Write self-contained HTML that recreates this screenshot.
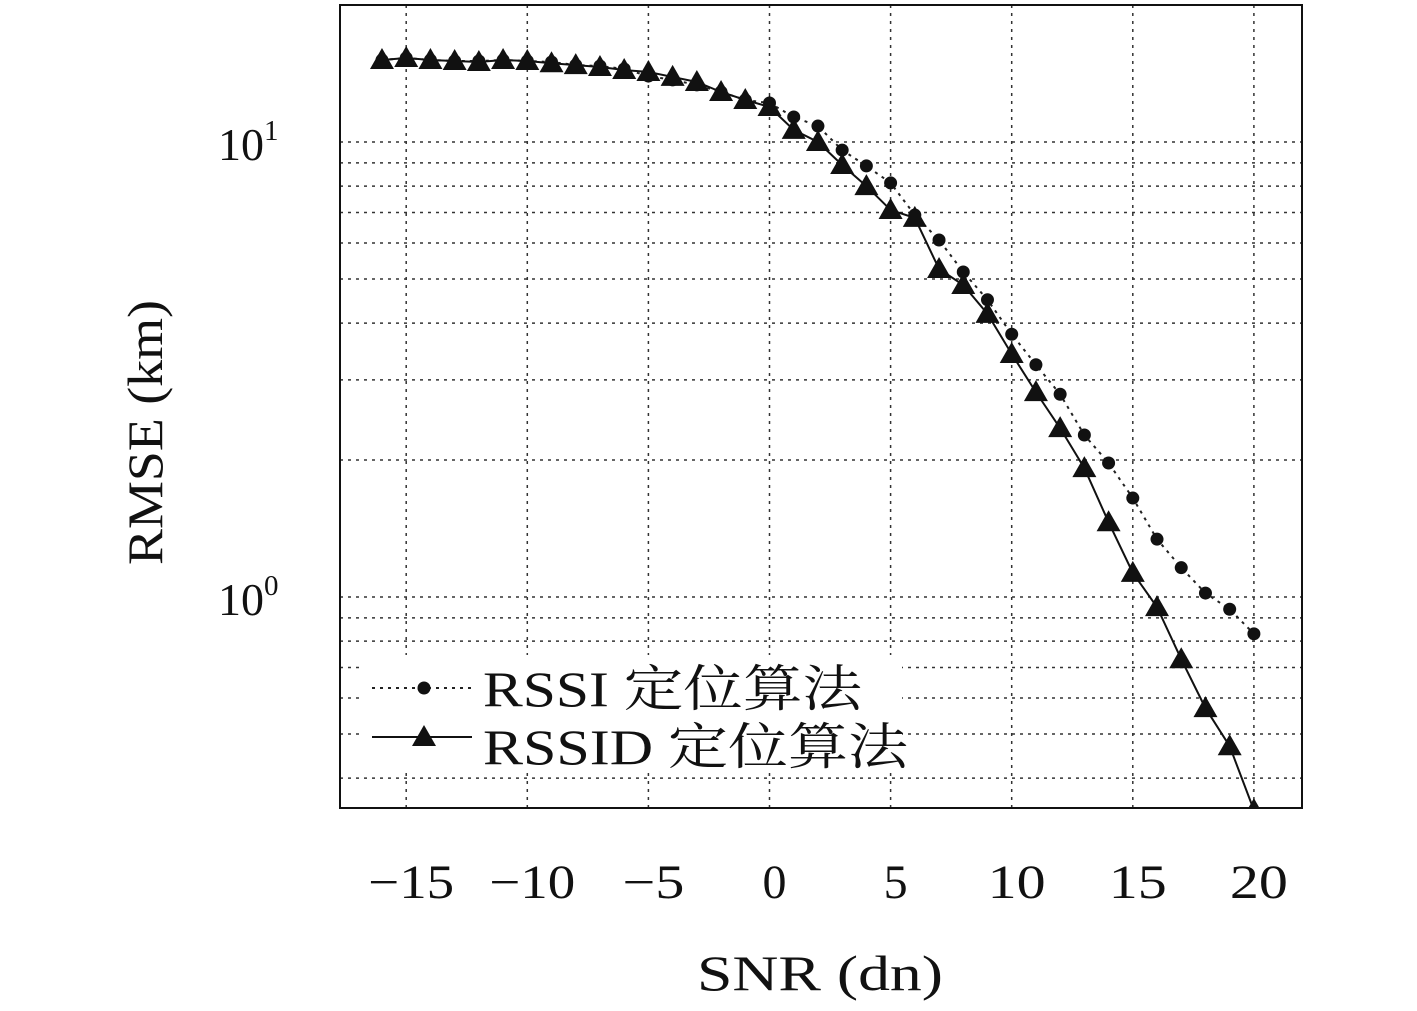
<!DOCTYPE html>
<html><head><meta charset="utf-8"><style>
body{margin:0;background:#fff}
svg{display:block}
text{font-family:"Liberation Serif","Noto Serif CJK SC",serif;fill:#111}
</style></head><body>
<svg id="chart" width="1417" height="1011">
<defs><clipPath id="clip"><rect x="340" y="5" width="962" height="803"/></clipPath></defs>
<g id="grid"></g>
<g id="marks" clip-path="url(#clip)"></g>
<rect x="340" y="5" width="962" height="803" fill="none" stroke="#111" stroke-width="2"/>
<g id="ticks"></g>
<text x="697" y="990" font-size="50" textLength="246" lengthAdjust="spacingAndGlyphs">SNR (dn)</text>
<text transform="translate(162,565) rotate(-90)" font-size="50" textLength="265" lengthAdjust="spacingAndGlyphs">RMSE (km)</text>
<g>
<rect x="362" y="655" width="540" height="115" fill="#fff"/>
<g>
<line x1="372" y1="688" x2="472" y2="688" stroke="#222" stroke-width="2" stroke-dasharray="3,5"/>
<circle cx="424" cy="688" r="6.5" fill="#111"/>
<text x="483" y="706" font-size="50" textLength="379" lengthAdjust="spacingAndGlyphs">RSSI 定位算法</text></g>
<g>
<line x1="372" y1="737" x2="472" y2="737" stroke="#111" stroke-width="2"/>
<polygon points="424,725 436,746 412,746" fill="#111"/>
<text x="483" y="764" font-size="50" textLength="425" lengthAdjust="spacingAndGlyphs">RSSID 定位算法</text></g>
</g>
</svg>
<script>
const snr=[-16,-15,-14,-13,-12,-11,-10,-9,-8,-7,-6,-5,-4,-3,-2,-1,0,1,2,3,4,5,6,7,8,9,10,11,12,13,14,15,16,17,18,19,20];
const rssi=[15.14,15.3,15.14,15.07,15.07,15.14,15.07,14.99,14.76,14.69,14.47,13.96,13.69,13.35,12.88,12.37,12.18,11.35,10.84,9.6,8.86,8.13,6.91,6.09,5.18,4.5,3.78,3.24,2.79,2.27,1.97,1.65,1.34,1.16,1.02,0.94,0.83];
const rssid=[15.14,15.3,15.14,15.07,14.99,15.14,15.07,14.9,14.76,14.62,14.4,14.25,13.9,13.55,12.88,12.37,11.94,10.63,10.0,8.9,8.0,7.09,6.81,5.26,4.85,4.19,3.42,2.82,2.35,1.92,1.46,1.13,0.95,0.73,0.57,0.47,0.34];
const xTicks=[-15,-10,-5,0,5,10,15,20];
const yMinor=[0.4,0.5,0.6,0.7,0.8,0.9,1,2,3,4,5,6,7,8,9,10];
const X=v=>769.5+v*24.22;
const Y=v=>142-(Math.log10(v)-1)*455;
const NS="http://www.w3.org/2000/svg";
function mk(tag,attrs,parent){const e=document.createElementNS(NS,tag);for(const k in attrs)e.setAttribute(k,attrs[k]);parent.appendChild(e);return e;}
const grid=document.getElementById('grid'),marks=document.getElementById('marks'),ticks=document.getElementById('ticks');
xTicks.forEach(t=>{
 const l=mk('line',{x1:X(t),x2:X(t),y1:5,y2:808,stroke:'#333','stroke-width':1.5,'stroke-dasharray':'3,5'},grid);
 
 
 const w=t<=-10?86:(t<0?62:(t>=10?58:24));
 const tx=mk('text',{x:X(t)+5-w/2,y:898,'font-size':48,textLength:w,lengthAdjust:'spacingAndGlyphs'},ticks);
 tx.textContent=t<0?'\u2212'+(-t):String(t);
 
 
});
yMinor.forEach(v=>{
 const l=mk('line',{x1:340,x2:1302,y1:Y(v),y2:Y(v),stroke:'#333','stroke-width':1.5,'stroke-dasharray':'3,5'},grid);
 
 
});
[[10,'1'],[1,'0']].forEach(([v,e])=>{
 const tx=mk('text',{x:218,y:Y(v)+18,'font-size':46},ticks);
 tx.textContent='10';
 const s=mk('tspan',{dy:-20,'font-size':29},tx);s.textContent=e;
 
 
});
const p1=snr.map((s,i)=>X(s)+','+Y(rssi[i])).join(' ');
const l1=mk('polyline',{points:p1,fill:'none',stroke:'#222','stroke-width':2,'stroke-dasharray':'3,5'},marks);


const p2=snr.map((s,i)=>X(s)+','+Y(rssid[i])).join(' ');
const l2=mk('polyline',{points:p2,fill:'none',stroke:'#111','stroke-width':2},marks);


snr.forEach((s,i)=>{
 const c=mk('circle',{cx:X(s),cy:Y(rssi[i]),r:6.5,fill:'#111'},marks);
 
 
 const x=X(s),y=Y(rssid[i]);
 const t=mk('polygon',{points:`${x},${y-12} ${x+12},${y+9} ${x-12},${y+9}`,fill:'#111'},marks);
 
 
});
</script>
</body></html>
